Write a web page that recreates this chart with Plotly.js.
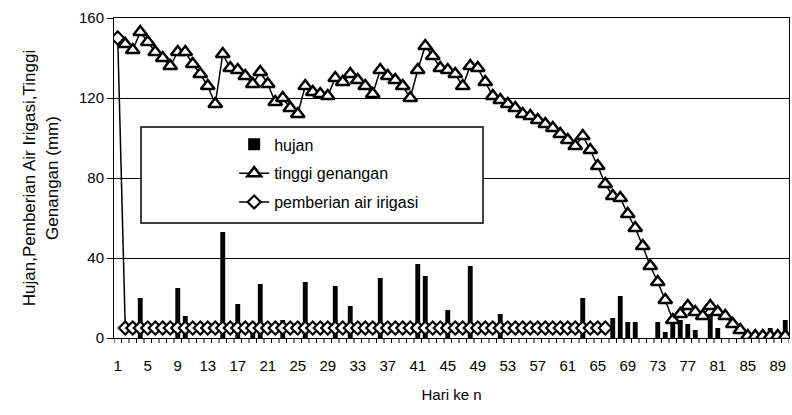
<!DOCTYPE html>
<html>
<head>
<meta charset="utf-8">
<script src="https://cdn.plot.ly/plotly-3.0.1.min.js"></script>
<style>
html,body{margin:0;padding:0;background:#fff;}
#chart{width:792px;height:415px;}
</style>
</head>
<body>
<div id="chart"></div>
<script>
// Day numbers (categories)
const days = [1,2,3,4,5,6,7,8,9,10,11,12,13,14,15,16,17,18,19,20,21,22,23,24,25,26,27,28,29,30,
  31,32,33,34,35,36,37,38,39,40,41,42,43,44,45,46,47,48,49,50,51,52,53,54,55,56,57,58,59,60,
  61,62,63,64,65,66,67,68,69,70,71,72,73,74,75,76,77,78,79,80,81,82,83,84,85,86,87,88,89,90];

// Rainfall (hujan), mm
const hujan = [0,0,0,20,0,0,0,0,25,11,
  0,0,0,0,53,0,17,0,8,27,
  0,0,9,0,0,28,0,0,0,26,
  0,16,0,0,0,30,0,0,0,0,
  37,31,0,0,14,0,0,36,0,0,
  0,12,0,0,0,0,0,0,0,0,
  0,0,20,0,0,0,10,21,8,8,
  0,0,8,3,8,9,7,4,0,12,
  5,0,0,0,0,0,0,5,0,9];

// Ponding depth (tinggi genangan), mm
const tinggi = [150,147,144,153,148,143,140,136,143,143,
  137,132,126,117,142,135,134,131,127,133,
  127,118,120,115,112,126,123,122,121,130,
  128,132,129,126,122,134,131,129,126,120,
  134,146,141,135,134,132,126,136,135,128,
  121,119,117,115,112,111,109,107,105,102,
  99,96,101,94,86,77,71,70,62,55,
  46,36,28,19,9,12,16,13,11,16,
  13,11,7,4,1,1,1,1,1,1];

// Irrigation supply (pemberian air irigasi), mm
const irigasi = [150,5,5,5,5,5,5,5,5,5,
  5,5,5,5,5,5,5,5,5,5,
  5,5,5,5,5,5,5,5,5,5,
  5,5,5,5,5,5,5,5,5,5,
  5,5,5,5,5,5,5,5,5,5,
  5,5,5,5,5,5,5,5,5,5,
  5,5,5,5,5,5,null,null,null,null,
  null,null,null,null,null,null,null,null,null,null,
  null,null,null,null,null,null,null,null,null,null];

// Labelled days on the x axis
const tickDays = [1,5,9,13,17,21,25,29,33,37,41,45,49,53,57,61,65,69,73,77,81,85,89];
const tickLabels = ['1','5','9','13','17','21','25','29','33','37','41','45','49','53','57','61','65','69','73','77','81','85','89'];

const FONT = 'Liberation Sans, Arial, sans-serif';

const traces = [
  {
    type: 'bar', name: 'hujan', x: days, y: hujan,
    marker: {color: '#000', line: {width: 0}},
    legendgroup: 'a'
  },
  {
    type: 'scatter', mode: 'lines+markers', name: 'tinggi genangan', x: days, y: tinggi,
    line: {color: '#000', width: 1.5},
    marker: {symbol: 'triangle-up', size: 12, color: '#fff', line: {color: '#000', width: 2.5}},
    legendgroup: 'b'
  },
  {
    type: 'scatter', mode: 'lines+markers', name: 'pemberian air irigasi', x: days, y: irigasi,
    line: {color: '#000', width: 1.5},
    marker: {symbol: 'diamond', size: 10, color: '#fff', line: {color: '#000', width: 2.2}},
    legendgroup: 'c'
  }
];

// small tick marks on the category boundaries of the x axis (axis decoration)
const boundaryTicks = days.map(d => d - 0.5).concat([days[days.length - 1] + 0.5]).map(b => ({
  type: 'line', xref: 'x', x0: b, x1: b,
  yref: 'paper', ysizemode: 'pixel', yanchor: 0, y0: 0, y1: -5,
  line: {color: '#000', width: 1}, layer: 'above'
}));

const layout = {
  width: 792, height: 415,
  margin: {l: 114, r: 3, t: 18, b: 77},
  paper_bgcolor: '#fff', plot_bgcolor: '#fff',
  font: {family: FONT, size: 15, color: '#000'},
  bargap: 0.35,
  showlegend: true,
  legend: {
    x: 0.178, y: 0.658, xanchor: 'left', yanchor: 'top',
    bgcolor: 'rgba(0,0,0,0)', borderwidth: 0,
    traceorder: 'grouped', tracegroupgap: 5,
    font: {family: FONT, size: 16, color: '#000'}
  },
  xaxis: {
    type: 'linear', range: [days[0] - 0.5, days[days.length - 1] + 0.5],
    tickmode: 'array', tickvals: tickDays, ticktext: tickLabels,
    ticks: 'outside', ticklen: 14, tickcolor: 'rgba(0,0,0,0)',
    showgrid: false, zeroline: false,
    showline: true, linecolor: '#000', linewidth: 1, mirror: true,
    tickfont: {family: FONT, size: 15, color: '#000'},
    title: {text: 'Hari ke n', font: {family: FONT, size: 15, color: '#000'}, standoff: 16}
  },
  yaxis: {
    range: [0, 160], tickmode: 'linear', tick0: 0, dtick: 40,
    ticks: 'outside', ticklen: 6, tickcolor: '#000', tickwidth: 1,
    showgrid: true, gridcolor: '#000', gridwidth: 1,
    zeroline: false, showline: true, linecolor: '#000', linewidth: 1, mirror: true,
    tickfont: {family: FONT, size: 15, color: '#000'},
    title: {text: 'Hujan,Pemberian Air Irigasi,Tinggi<br>Genangan (mm)', font: {family: FONT, size: 17, color: '#000'}, standoff: 16}
  },
  shapes: [
    {type: 'rect', xref: 'paper', yref: 'paper', x0: 0.04, x1: 0.5467, y0: 0.359, y1: 0.659,
     line: {color: '#000', width: 1.5}, fillcolor: '#fff', layer: 'above'}
  ].concat(boundaryTicks)
};

Plotly.newPlot('chart', traces, layout, {displayModeBar: false, staticPlot: true});
</script>
</body>
</html>
